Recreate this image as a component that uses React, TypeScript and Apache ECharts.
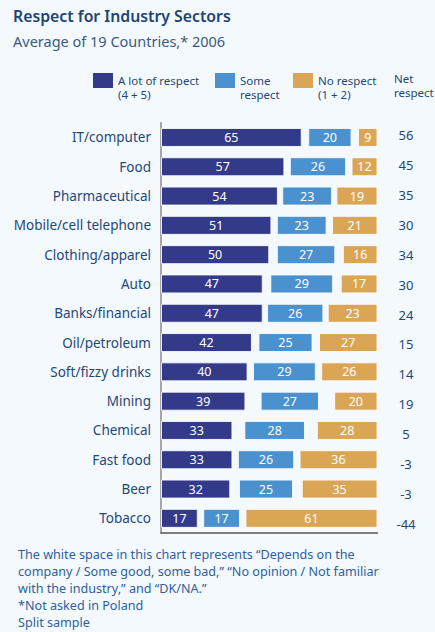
import React, { useEffect, useRef } from "react";
import * as echarts from "echarts";

const categories = [
  "IT/computer",
  "Food",
  "Pharmaceutical",
  "Mobile/cell telephone",
  "Clothing/apparel",
  "Auto",
  "Banks/financial",
  "Oil/petroleum",
  "Soft/fizzy drinks",
  "Mining",
  "Chemical",
  "Fast food",
  "Beer",
  "Tobacco",
];
const aLotOfRespect = [65, 57, 54, 51, 50, 47, 47, 42, 40, 39, 33, 33, 32, 17];
const someRespect = [20, 26, 23, 23, 27, 29, 26, 25, 29, 27, 28, 26, 25, 17];
const noRespect = [9, 12, 19, 21, 16, 17, 23, 27, 26, 20, 28, 36, 35, 61];
const netRespect = [56, 45, 35, 30, 34, 30, 24, 15, 14, 19, 5, -3, -3, -44];
const footnotes = [
  "The white space in this chart represents \u201cDepends on the",
  "company / Some good, some bad,\u201d \u201cNo opinion / Not familiar",
  "with the industry,\u201d and \u201cDK/NA.\u201d",
  "*Not asked in Poland",
  "Split sample",
];

const NAVY = "#343a8a";
const BLUE = "#4a91cf";
const ORANGE = "#dba556";
const TEXT = "#1f4878";
const FONT = "'Noto Sans', sans-serif";

export default function App() {
  const ref = useRef<HTMLDivElement>(null);
  useEffect(() => {
    if (!ref.current) return;
    const chart = echarts.init(ref.current, null, { renderer: "svg" });
    const gap = categories.map(
      (_, i) => (100 - aLotOfRespect[i] - someRespect[i] - noRespect[i]) / 2
    );
    const segLabel = {
      show: true,
      position: "inside",
      color: "#ffffff",
      fontSize: 12.5,
      fontFamily: FONT,
    };
    const segStyle = (c: string) => ({
      color: c,
      borderColor: "rgba(255,255,255,0.85)",
      borderWidth: 1,
    });
    const legendItems = [
      { x: 93, color: NAVY, l1: "A lot of respect", l2: "(4 + 5)" },
      { x: 215, color: BLUE, l1: "Some", l2: "respect" },
      { x: 293, color: ORANGE, l1: "No respect", l2: "(1 + 2)" },
    ];
    const graphic: any[] = [
      {
        type: "text",
        left: 13,
        top: 8,
        style: {
          text: "Respect for Industry Sectors",
          fill: "#1d4472",
          font: `600 15.8px ${FONT}`,
        },
      },
      {
        type: "text",
        left: 13,
        top: 33,
        style: {
          text: "Average of 19 Countries,* 2006",
          fill: "#3b5a82",
          font: `14.5px ${FONT}`,
        },
      },
    ];
    const line = (x: number, y: number, t: string, size = 11.5) => ({
      type: "text",
      x,
      y,
      style: {
        text: t,
        fill: TEXT,
        font: `${size}px ${FONT}`,
        textVerticalAlign: "middle",
      },
    });
    legendItems.forEach((it) => {
      graphic.push({
        type: "rect",
        shape: { x: it.x, y: 73, width: 20, height: 15 },
        style: { fill: it.color },
      });
      graphic.push(line(it.x + 25, 80.5, it.l1));
      graphic.push(line(it.x + 25, 94.5, it.l2));
    });
    graphic.push(line(394, 78, "Net", 11.5));
    graphic.push(line(394, 92, "respect", 11.5));
    footnotes.forEach((t, i) => {
      graphic.push({
        type: "text",
        x: 18,
        y: 554 + i * 17,
        style: {
          text: t,
          fill: "#2f5f9c",
          font: `12.6px ${FONT}`,
          textVerticalAlign: "middle",
        },
      });
    });

    chart.setOption({
      animation: false,
      backgroundColor: "#f4f9fe",
      textStyle: { fontFamily: FONT },
      graphic,
      grid: [
        { left: 161, right: 57.5, top: 122.8, height: 410.2, containLabel: false },
        { left: 420, width: 5, top: 120, height: 419, containLabel: false },
      ],
      xAxis: [
        {
          type: "value",
          gridIndex: 0,
          min: 0,
          max: 100,
          axisLabel: { show: false },
          splitLine: { show: false },
          axisTick: { show: false },
          axisLine: { show: true, lineStyle: { color: "#555", width: 1.5 } },
        },
        {
          type: "value",
          gridIndex: 1,
          show: false,
        },
      ],
      yAxis: [
        {
          type: "category",
          gridIndex: 0,
          data: categories,
          inverse: true,
          axisTick: { show: false },
          axisLine: { show: true, lineStyle: { color: "#8a8a8a", width: 1.5 } },
          axisLabel: {
            color: TEXT,
            fontSize: 13.5,
            fontFamily: FONT,
            margin: 10,
          },
        },
        {
          type: "category",
          gridIndex: 1,
          data: netRespect.map(String),
          inverse: true,
          axisTick: { show: false },
          axisLine: { show: false },
          axisLabel: {
            color: TEXT,
            fontSize: 13,
            fontFamily: FONT,
            margin: 14,
            align: "center",
          },
        },
      ],
      series: [
        {
          name: "A lot of respect (4 + 5)",
          type: "bar",
          stack: "t",
          barWidth: 19,
          data: aLotOfRespect,
          itemStyle: segStyle(NAVY),
          label: segLabel,
        },
        {
          name: "gap1",
          type: "bar",
          stack: "t",
          data: gap,
          itemStyle: { color: "transparent" },
          silent: true,
        },
        {
          name: "Some respect",
          type: "bar",
          stack: "t",
          data: someRespect,
          itemStyle: segStyle(BLUE),
          label: segLabel,
        },
        {
          name: "gap2",
          type: "bar",
          stack: "t",
          data: gap,
          itemStyle: { color: "transparent" },
          silent: true,
        },
        {
          name: "No respect (1 + 2)",
          type: "bar",
          stack: "t",
          data: noRespect,
          itemStyle: segStyle(ORANGE),
          label: segLabel,
        },
      ],
    });
    return () => chart.dispose();
  }, []);
  return (
    <div
      ref={ref}
      style={{ position: "fixed", left: 0, top: 0, width: 435, height: 632 }}
    />
  );
}
